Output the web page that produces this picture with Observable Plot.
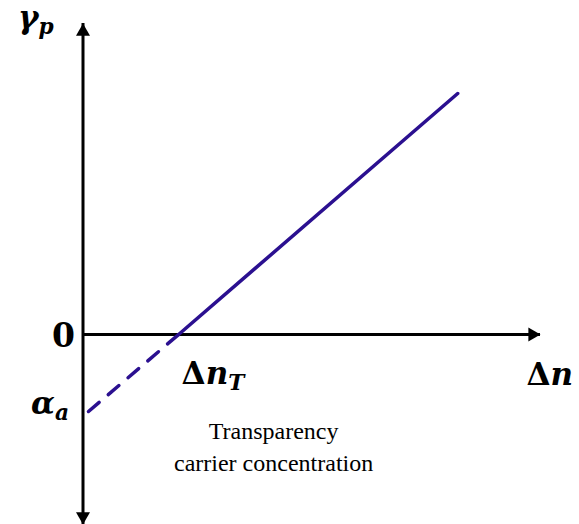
<!DOCTYPE html>
<html>
<head>
<meta charset="utf-8">
<script src="https://cdn.jsdelivr.net/npm/d3@7"></script>
<script src="https://cdn.jsdelivr.net/npm/@observablehq/plot@0.6"></script>
<style>
  html, body { margin: 0; padding: 0; background: #fff; }
  #chart svg { display: block; }
</style>
</head>
<body>
<div id="chart"></div>
<script>
// Carrier density Δn (horizontal) and peak gain γp (vertical), arbitrary units.
const axisX = [0, 100];          // Δn axis extent (origin to arrow tip)
const axisY = [-47.5, 77.75];    // γp axis extent (bottom tip to top tip)

// Gain line: absorption intercept, transparency point, top end.
const deltaN = [1.2, 20.9, 81.9];
const gainP = [-19.25, 0, 60.25];
const transparencyN = 20.9;
const alphaA = -19.25;

const lineColor = "#2b1090";

// Below transparency the gain is drawn dashed, above it solid.
const absorbing = deltaN.map((n, i) => ({n, g: gainP[i]})).filter(d => d.g <= 0);
const amplifying = deltaN.map((n, i) => ({n, g: gainP[i]})).filter(d => d.g >= 0);

// Math labels, split into parts so subscripts and italics can be set.
const mathLabels = [
  {id: "gamma", x: 0, y: axisY[1], anchor: "start", dx: -65, dy: -5, parts: [["γ", "italic"], ["p", "italic", "sub"]]},
  {id: "alpha", x: 0, y: alphaA, anchor: "end", dx: -14, dy: -7, parts: [["α", "italic"], ["a", "italic", "sub"]]},
  {id: "dnT", x: transparencyN, y: 0, anchor: "start", dx: 3, dy: 40, parts: [["Δ", "normal"], ["n", "italic"], ["T", "italic", "sub"]]},
  {id: "dn", x: axisX[1], y: 0, anchor: "start", dx: -14, dy: 41, parts: [["Δ", "normal"], ["n", "italic"]]}
];
const zeroLabel = ["0"];
const caption = ["Transparency\ncarrier concentration"];

const serif = "'Liberation Serif', 'Times New Roman', serif";
const mathFont = "'DejaVu Serif', serif";

const chart = Plot.plot({
  width: 579,
  height: 524,
  margin: 0,
  style: {background: "#fff"},
  x: {domain: axisX, range: [82.5, 540], axis: null},
  y: {domain: axisY, range: [524, 23], axis: null},
  marks: [
    // axes
    Plot.ruleX([0], {y1: axisY[0], y2: axisY[1], stroke: "#000", strokeWidth: 3}),
    Plot.ruleY([0], {x1: axisX[0], x2: axisX[1], stroke: "#000", strokeWidth: 3}),
    // arrow heads
    Plot.dot([{x: 0, y: axisY[1]}], {x: "x", y: "y", symbol: "triangle", r: 5.2, fill: "#000", dy: 8.1}),
    Plot.dot([{x: 0, y: axisY[0]}], {x: "x", y: "y", symbol: "triangle", r: 5.2, fill: "#000", rotate: 180, dy: -8.1}),
    Plot.dot([{x: axisX[1], y: 0}], {x: "x", y: "y", symbol: "triangle", r: 5.2, fill: "#000", rotate: 90, dx: -8.1}),
    // gain line
    Plot.line(absorbing, {x: "n", y: "g", stroke: lineColor, strokeWidth: 3.5, strokeDasharray: "14,12"}),
    Plot.line(amplifying, {x: "n", y: "g", stroke: lineColor, strokeWidth: 3.5}),
    // labels
    Plot.text(zeroLabel, {x: 0, y: 0, text: d => d, textAnchor: "end", dx: -8, dy: 2, fontSize: 33, fontWeight: "bold", fontFamily: mathFont, fill: "#000"}),
    ...mathLabels.map(d => Plot.text([d], {
      x: "x", y: "y", text: l => l.parts.map(p => p[0]).join(""),
      textAnchor: d.anchor, dx: d.dx, dy: d.dy, fontSize: 31, fontWeight: "bold",
      fontFamily: mathFont, fill: "#000", ariaLabel: l => "math-" + l.id
    })),
    Plot.text(caption, {x: transparencyN, y: 0, text: d => d, textAnchor: "middle", lineAnchor: "top", lineHeight: 1.33, dx: 95, dy: 82, fontSize: 24, fontFamily: serif, fill: "#000"})
  ]
});

// Rebuild the math labels with italic parts and lowered subscripts.
mathLabels.forEach(d => {
  let node = chart.querySelector(`[aria-label="math-${d.id}"]`);
  if (!node) return;
  if (node.tagName.toLowerCase() !== "text") node = node.querySelector("text");
  const text = d3.select(node);
  text.selectAll("*").remove();
  text.text(null);
  d.parts.forEach(([t, style, sub]) => {
    const span = text.append("tspan").attr("font-style", style).text(t);
    if (sub) span.attr("font-size", "0.7em").attr("dy", "0.25em");
  });
});

document.getElementById("chart").appendChild(chart);
</script>
</body>
</html>
